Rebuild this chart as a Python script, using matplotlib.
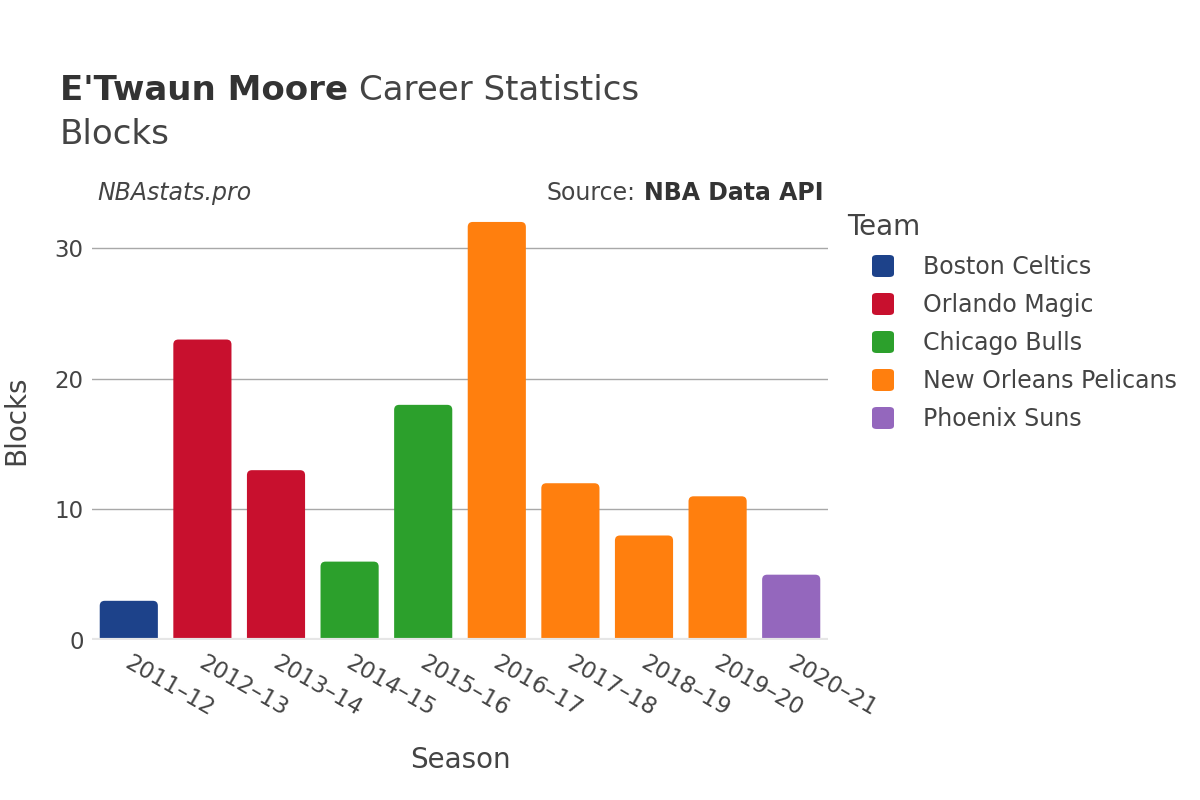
import matplotlib.pyplot as plt
from matplotlib.patches import FancyBboxPatch
from matplotlib.transforms import ScaledTranslation

seasons = ["2011–12", "2012–13", "2013–14", "2014–15", "2015–16",
           "2016–17", "2017–18", "2018–19", "2019–20", "2020–21"]
blocks = [3, 23, 13, 6, 18, 32, 12, 8, 11, 5]
teams = ["Boston Celtics", "Orlando Magic", "Orlando Magic", "Chicago Bulls",
         "Chicago Bulls", "New Orleans Pelicans", "New Orleans Pelicans",
         "New Orleans Pelicans", "New Orleans Pelicans", "Phoenix Suns"]
team_order = ["Boston Celtics", "Orlando Magic", "Chicago Bulls",
              "New Orleans Pelicans", "Phoenix Suns"]
team_colors = {
    "Boston Celtics": "#1d428a",
    "Orlando Magic": "#c8102e",
    "Chicago Bulls": "#2ca02c",
    "New Orleans Pelicans": "#ff7f0e",
    "Phoenix Suns": "#9467bd",
}

W, H = 1200, 800
fig = plt.figure(figsize=(12, 8), dpi=100)
ax = fig.add_axes([92 / W, 1 - 640 / H, (828 - 92) / W, 440 / H])

x = list(range(len(seasons)))
bars = ax.bar(x, blocks, width=0.79, color=[team_colors[t] for t in teams])

ax.set_xlim(-0.5, len(seasons) - 0.5)
ax.set_ylim(0, 33.68)

# swap plain bars for ones with rounded top corners
px_x = (828 - 92) / len(seasons)
px_y = 440 / 33.68
r = 5 / px_x
for b in bars:
    bx, bw, bh = b.get_x(), b.get_width(), b.get_height()
    rr = FancyBboxPatch((bx + r, -1.0), bw - 2 * r, bh + 1.0 - r * px_x / px_y,
                        boxstyle=f"round,pad={r},rounding_size={r}",
                        mutation_aspect=px_x / px_y,
                        facecolor=b.get_facecolor(), edgecolor="none", zorder=2)
    ax.add_patch(rr)
    b.set_visible(False)

ax.set_yticks([0, 10, 20, 30])
ax.yaxis.grid(True, color="#a8a8a8", linewidth=1)
ax.set_axisbelow(True)
ax.axhline(0, color="#e6e6e6", linewidth=3, zorder=3)
for s in ax.spines.values():
    s.set_visible(False)
ax.tick_params(axis="both", length=0, labelsize=16.5, labelcolor="#444444")
ax.tick_params(axis="y", pad=6)
ax.set_xticks(x)
ax.set_xticklabels(seasons, rotation=-30, ha="left", va="top",
                   rotation_mode="anchor")
ax.tick_params(axis="x", pad=8)
shift = ScaledTranslation(4 / 100, 0, fig.dpi_scale_trans)
for lab in ax.get_xticklabels():
    lab.set_transform(lab.get_transform() + shift)

fig.text(460 / W, 1 - 760 / H, "Season", fontsize=20, color="#444444",
         ha="center", va="center")
fig.text(16 / W, 1 - 420 / H, "Blocks", rotation=90, fontsize=20,
         color="#444444", ha="center", va="center")

# titles
t1 = fig.text(60 / W, 1 - 90 / H, "E'Twaun Moore", fontsize=24.5,
              fontweight="bold", color="#333333", va="center")
fig.canvas.draw()
bb = t1.get_window_extent()
fig.text(bb.x1 / W + 11 / W, 1 - 90 / H, "Career Statistics", fontsize=24.5,
         color="#444444", va="center")
fig.text(60 / W, 1 - 134 / H, "Blocks", fontsize=24.5, color="#444444",
         va="center")

fig.text(97 / W, 1 - 193 / H, "NBAstats.pro", fontsize=17,
         style="italic", color="#444444", va="center")
t2 = fig.text(824 / W, 1 - 193 / H, "NBA Data API", fontsize=17,
              fontweight="bold", color="#333333", va="center", ha="right")
fig.canvas.draw()
bb2 = t2.get_window_extent()
fig.text(bb2.x0 / W - 9 / W, 1 - 193 / H, "Source:", fontsize=17,
         color="#444444", va="center", ha="right")

# legend
fig.text(847 / W, 1 - 227 / H, "Team", fontsize=20, color="#444444",
         va="center")
for i, team in enumerate(team_order):
    yc = 266 + 38 * i
    fig.add_artist(FancyBboxPatch((872 / W, 1 - (yc + 11) / H), 22 / W, 22 / H,
                                  boxstyle="round,pad=0,rounding_size=0.004",
                                  transform=fig.transFigure,
                                  facecolor=team_colors[team], edgecolor="none"))
    fig.text(923 / W, 1 - (yc + 1) / H, team, fontsize=17, color="#444444",
             va="center")

fig.savefig("out.png", dpi=100)
plt.close()
